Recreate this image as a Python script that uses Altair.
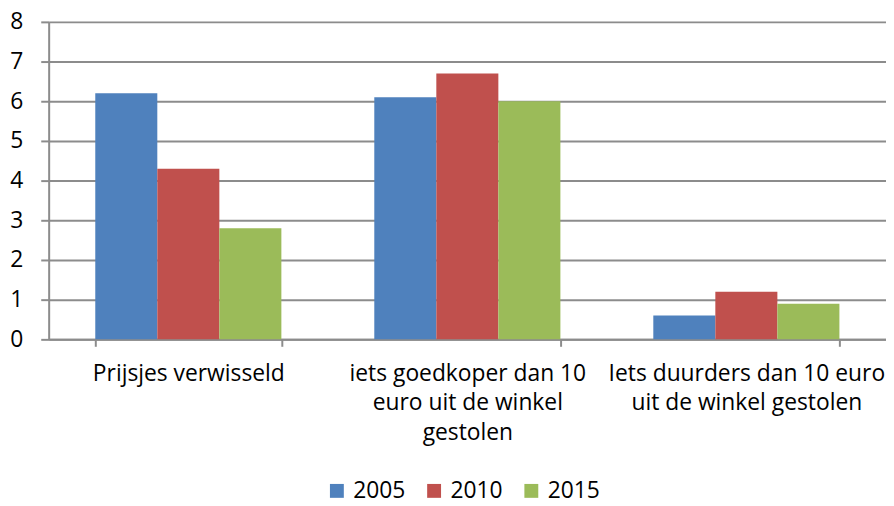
import altair as alt
import pandas as pd

categories = ["Prijsjes verwisseld",
              "iets goedkoper dan 10|euro uit de winkel|gestolen",
              "Iets duurders dan 10 euro|uit de winkel gestolen"]
years = ["2005", "2010", "2015"]
v2005 = [6.2, 6.1, 0.6]
v2010 = [4.3, 6.7, 1.2]
v2015 = [2.8, 6.0, 0.9]
colors = ["#4F81BD", "#C0504D", "#9BBB59"]

rows = []
for i, c in enumerate(categories):
    for y, vals in zip(years, [v2005, v2010, v2015]):
        rows.append({"cat": c, "year": y, "value": vals[i]})
df = pd.DataFrame(rows)

font = "Open Sans"
grey = "#8C8C8C"
fs = 23

chart = alt.Chart(df).mark_bar().encode(
    x=alt.X("cat:N", sort=categories, title=None,
            scale=alt.Scale(paddingInner=0.333, paddingOuter=0.167),
            axis=alt.Axis(labelAngle=0, labelExpr="split(datum.label, '|')",
                          labelFontSize=fs, labelFont=font, labelColor="#000",
                          labelLineHeight=30, labelPadding=16, tickBand="extent",
                          tickSize=7, tickWidth=2, tickColor=grey,
                          domainColor=grey, domainWidth=2, labelLimit=400,
                          labelBaseline="top")),
    xOffset=alt.XOffset("year:N", sort=years, scale=alt.Scale(paddingInner=0, paddingOuter=0)),
    y=alt.Y("value:Q", title=None,
            scale=alt.Scale(domain=[0, 8], nice=False),
            axis=alt.Axis(values=[0, 1, 2, 3, 4, 5, 6, 7, 8], labelOverlap=False,
                          labelFontSize=fs, labelFont=font,
                          labelColor="#000", tickSize=8, tickWidth=2, tickColor=grey,
                          domainColor=grey, domainWidth=2, gridColor=grey, gridWidth=2,
                          labelPadding=18)),
    color=alt.Color("year:N", sort=years, title=None,
                    scale=alt.Scale(domain=years, range=colors),
                    legend=alt.Legend(orient="none", legendX=279, legendY=461, direction="horizontal",
                                      symbolType="square", symbolSize=196, symbolStrokeWidth=0,
                                      labelFontSize=fs, labelFont=font, labelColor="#000",
                                      columnPadding=17, symbolOffset=0, labelOffset=5,
                                      labelLimit=200)),
).properties(
    width=844, height=320,
    autosize=alt.AutoSizeParams(type="none"),
    padding={"left": 41, "top": 12, "right": 0, "bottom": 166},
).configure_view(stroke=None).configure(background="white")

chart.save("out.html", embed_options={"renderer": "svg", "actions": False})
